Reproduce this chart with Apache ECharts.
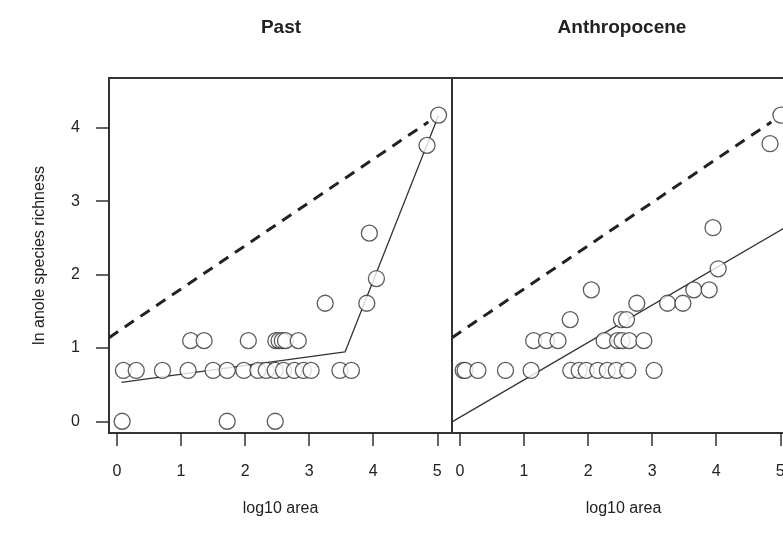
<!DOCTYPE html>
<html>
<head>
<meta charset="utf-8">
<script src="https://cdn.jsdelivr.net/npm/echarts@6/dist/echarts.min.js"></script>
<style>html,body{margin:0;padding:0;background:#fff;}#c{width:783px;height:538px;}</style>
</head>
<body>
<div id="c"></div>
<script>
// ---- data ----
const xTicks = [0, 1, 2, 3, 4, 5];
const yTicks = [0, 1, 2, 3, 4];
const panelTitles = ['Past', 'Anthropocene'];
const xName = 'log10 area';
const yName = 'ln anole species richness';

const pastX = [0.08, 1.72, 2.47,
  0.10, 0.30, 0.71, 1.11, 1.50, 1.72, 1.98, 2.20, 2.33, 2.47, 2.60, 2.77, 2.91, 3.03, 3.48, 3.66,
  1.15, 1.36, 2.05, 2.48, 2.53, 2.58, 2.63, 2.83,
  3.25, 3.90, 4.05, 3.94, 4.84, 5.02];
const pastY = [0, 0, 0,
  0.693, 0.693, 0.693, 0.693, 0.693, 0.693, 0.693, 0.693, 0.693, 0.693, 0.693, 0.693, 0.693, 0.693, 0.693, 0.693,
  1.099, 1.099, 1.099, 1.099, 1.099, 1.099, 1.099, 1.099,
  1.609, 1.609, 1.946, 2.565, 3.761, 4.174];

const anthX = [0.05, 0.08, 0.28, 0.71, 1.11, 1.73, 1.86, 1.97, 2.15, 2.30, 2.44, 2.62, 3.03,
  1.15, 1.35, 1.53, 2.25, 2.46, 2.53, 2.64, 2.87,
  1.72, 2.52, 2.60,
  2.76, 3.24, 3.48,
  2.05, 3.65, 3.89,
  4.03, 3.95, 4.84, 5.01];
const anthY = [0.693, 0.693, 0.693, 0.693, 0.693, 0.693, 0.693, 0.693, 0.693, 0.693, 0.693, 0.693, 0.693,
  1.099, 1.099, 1.099, 1.099, 1.099, 1.099, 1.099, 1.099,
  1.386, 1.386, 1.386,
  1.609, 1.609, 1.609,
  1.792, 1.792, 1.792,
  2.079, 2.639, 3.784, 4.174];

const pastFitX = [0.07, 3.56, 5.02];
const pastFitY = [0.53, 0.945, 4.17];
const anthFitX = [-0.125, 5.23];
const anthFitY = [-0.008, 2.72];
const refX = [-0.125, 4.86];
const refY = [1.14, 4.08];

// ---- chart ----
const FONT = 'Liberation Sans, Arial, Helvetica, sans-serif';
const zip = (xs, ys) => xs.map((x, i) => [x, ys[i]]);
const XMIN = -0.125, XMAX = 5.23, YMIN = -0.16, YMAX = 4.68;

function xAxis(idx) {
  return {
    type: 'value', gridIndex: idx, min: XMIN, max: XMAX,
    name: xName, nameLocation: 'middle', nameGap: 68,
    nameTextStyle: { fontFamily: FONT, fontSize: 16, color: '#222' },
    axisLine: { show: false, onZero: false }, splitLine: { show: false },
    axisTick: { show: true, inside: false, length: 13, customValues: xTicks, lineStyle: { color: '#333', width: 1.5 } },
    axisLabel: { show: true, customValues: xTicks, margin: 31, fontFamily: FONT, fontSize: 16, color: '#222' }
  };
}

const option = {
  animation: false,
  backgroundColor: '#fff',
  grid: [
    { left: 109, width: 343, top: 78, height: 355, show: true, borderColor: '#333', borderWidth: 2, backgroundColor: 'transparent', outerBoundsMode: 'none' },
    { left: 452, width: 343, top: 78, height: 355, show: true, borderColor: '#333', borderWidth: 2, backgroundColor: 'transparent', outerBoundsMode: 'none' }
  ],
  xAxis: [xAxis(0), xAxis(1)],
  yAxis: [
    {
      type: 'value', gridIndex: 0, min: YMIN, max: YMAX,
      name: yName, nameLocation: 'middle', nameGap: 61, nameRotate: 90,
      nameTextStyle: { fontFamily: FONT, fontSize: 16, color: '#222' },
      axisLine: { show: false, onZero: false }, splitLine: { show: false },
      axisTick: { show: true, inside: false, length: 13, customValues: yTicks, lineStyle: { color: '#333', width: 1.5 } },
      axisLabel: { show: true, customValues: yTicks, margin: 29, fontFamily: FONT, fontSize: 16, color: '#222' }
    },
    {
      type: 'value', gridIndex: 1, min: YMIN, max: YMAX,
      axisLine: { show: false, onZero: false }, splitLine: { show: false }, axisTick: { show: false }, axisLabel: { show: false }
    }
  ],
  graphic: [
    { type: 'text', x: 281, y: 28, style: { text: panelTitles[0], fontFamily: FONT, fontSize: 19, fontWeight: 'bold', fill: '#222', align: 'center', verticalAlign: 'middle' } },
    { type: 'text', x: 622, y: 28, style: { text: panelTitles[1], fontFamily: FONT, fontSize: 19, fontWeight: 'bold', fill: '#222', align: 'center', verticalAlign: 'middle' } }
  ],
  series: [
    { type: 'line', xAxisIndex: 0, yAxisIndex: 0, data: zip(refX, refY), showSymbol: false, z: 1,
      lineStyle: { color: '#222', width: 3, type: [11, 8] }, clip: true },
    { type: 'line', xAxisIndex: 0, yAxisIndex: 0, data: zip(pastFitX, pastFitY), showSymbol: false, z: 1,
      lineStyle: { color: '#333', width: 1.3 }, clip: true },
    { type: 'scatter', xAxisIndex: 0, yAxisIndex: 0, data: zip(pastX, pastY), symbol: 'circle', symbolSize: 16, z: 3,
      itemStyle: { color: '#fff', borderColor: '#333', borderWidth: 1.3 } },
    { type: 'line', xAxisIndex: 1, yAxisIndex: 1, data: zip(refX, refY), showSymbol: false, z: 1,
      lineStyle: { color: '#222', width: 3, type: [11, 8] }, clip: true },
    { type: 'line', xAxisIndex: 1, yAxisIndex: 1, data: zip(anthFitX, anthFitY), showSymbol: false, z: 1,
      lineStyle: { color: '#333', width: 1.3 }, clip: true },
    { type: 'scatter', xAxisIndex: 1, yAxisIndex: 1, data: zip(anthX, anthY), symbol: 'circle', symbolSize: 16, z: 3,
      itemStyle: { color: '#fff', borderColor: '#333', borderWidth: 1.3 } }
  ]
};
const chart = echarts.init(document.getElementById('c'), null, { renderer: 'canvas' });
chart.setOption(option);
</script>
</body>
</html>
